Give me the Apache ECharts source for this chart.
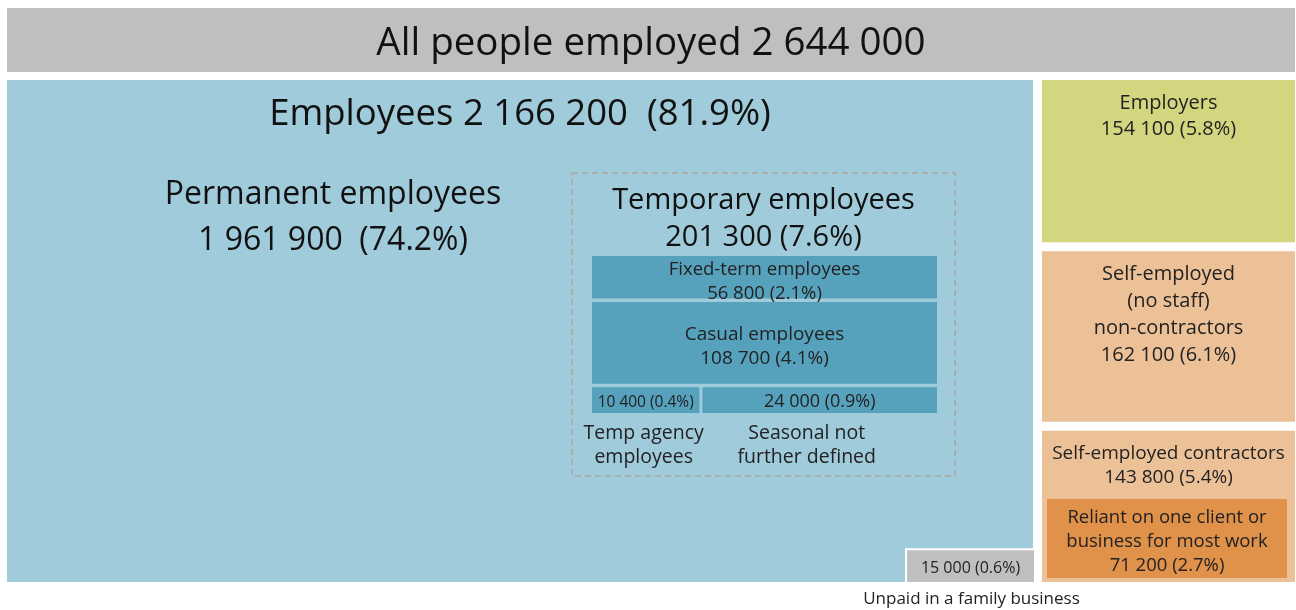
<!DOCTYPE html>
<html>
<head>
<meta charset="utf-8">
<script src="https://cdn.jsdelivr.net/npm/echarts@6/dist/echarts.min.js"></script>
<style>
  html, body { margin: 0; padding: 0; background: #ffffff; }
  #chart { width: 1296px; height: 610px; }
</style>
</head>
<body>
<div id="chart"></div>
<script>
// ---------------- DATA ----------------
const categories = [
  'All people employed',
  'Employees',
  'Permanent employees',
  'Temporary employees',
  'Fixed-term employees',
  'Casual employees',
  'Temp agency\nemployees',
  'Seasonal not\nfurther defined',
  'Employers',
  'Self-employed\n(no staff)\nnon-contractors',
  'Self-employed contractors',
  'Reliant on one client or\nbusiness for most work',
  'Unpaid in a family business'
];
const values = [2644000, 2166200, 1961900, 201300, 56800, 108700, 10400, 24000, 154100, 162100, 143800, 71200, 15000];
const shares = [null, 81.9, 74.2, 7.6, 2.1, 4.1, 0.4, 0.9, 5.8, 6.1, 5.4, 2.7, 0.6];

// ---------------- HELPERS ----------------
function fmt(v) { return String(v).replace(/\B(?=(\d{3})+(?!\d))/g, ' '); }
const FONT = '"Open Sans", Lato, sans-serif';

// Layout (in hidden-axis units) derived from the values
function buildLayout() {
  const R = [];
  const X0 = 7, X1 = 1295, Y0 = 8, HEAD = 64, GAP = 8, BOTTOM = 582, COLW = 253, COLGAP = 9;
  R[0] = { x0: X0, y0: Y0, x1: X1, y1: Y0 + HEAD };
  const top = Y0 + HEAD + GAP;
  R[1] = { x0: X0, y0: top, x1: X1 - COLW - COLGAP, y1: BOTTOM };
  // right column, stacked proportionally to value
  const rightIdx = [8, 9, 10];
  const rightSum = rightIdx.reduce((s, i) => s + values[i], 0);
  const avail = (BOTTOM - top) - COLGAP * (rightIdx.length - 1);
  let y = top;
  rightIdx.forEach((i) => {
    const h = avail * values[i] / rightSum;
    R[i] = { x0: X1 - COLW, y0: y, x1: X1, y1: y + h };
    y += h + COLGAP;
  });
  // reliant: nested in contractors, area-proportional
  const c = R[10], insL = 5, insR = 8, insB = 4;
  const cw = c.x1 - c.x0, ch = c.y1 - c.y0;
  const rw = cw - insL - insR;
  const rh = (values[11] / values[10]) * cw * ch / rw;
  R[11] = { x0: c.x0 + insL, y0: c.y1 - insB - rh, x1: c.x1 - insR, y1: c.y1 - insB };
  // unpaid: bottom-right notch of employees, same area density as right column
  const density = (COLW * avail) / rightSum;
  const uw = 126;
  const uh = values[12] * density / uw;
  R[12] = { x0: R[1].x1 - uw, y0: BOTTOM - uh, x1: R[1].x1 + 1, y1: BOTTOM };
  // temporary (dashed frame) and its parts
  R[3] = { x0: 572, y0: 173, x1: 955, y1: 476 };
  const ix0 = 592, ix1 = 937, itop = 256, ig = 3.5;
  const rowVals = [values[4], values[5], values[6] + values[7]];
  const innerH = 157 - 2 * ig;
  const rs = rowVals.reduce((a, b) => a + b, 0);
  const hs = rowVals.map(v => innerH * v / rs);
  R[4] = { x0: ix0, y0: itop, x1: ix1, y1: itop + hs[0] };
  R[5] = { x0: ix0, y0: R[4].y1 + ig, x1: ix1, y1: R[4].y1 + ig + hs[1] };
  const ry0 = R[5].y1 + ig, ry1 = ry0 + hs[2];
  const aw = (ix1 - ix0 - 3) * values[6] / (values[6] + values[7]) + 4;
  R[6] = { x0: ix0, y0: ry0, x1: ix0 + aw, y1: ry1 };
  R[7] = { x0: ix0 + aw + 3, y0: ry0, x1: ix1, y1: ry1 };
  R[2] = null;
  return R;
}
const rects = buildLayout();

const fills = {
  0: '#bfbfbf', 1: '#a0cbdb', 4: '#56a2bd', 5: '#56a2bd', 6: '#56a2bd', 7: '#56a2bd',
  8: '#d3d67f', 9: '#edc197', 10: '#edc197', 11: '#e0914a', 12: '#bfbfbf'
};

function labelsFor(i, r) {
  const cx = r ? (r.x0 + r.x1) / 2 : 0;
  const cy = r ? (r.y0 + r.y1) / 2 : 0;
  const v = fmt(values[i]);
  const p = shares[i];
  switch (i) {
    case 0: return [{ x: cx, y: cy + 4, t: categories[i] + ' ' + v, fs: 38.5, lh: 40, c: '#111' }];
    case 1: return [{ x: cx, y: r.y0 + 35, t: categories[i] + ' ' + v + '  (' + p + '%)', fs: 36.5, lh: 40, c: '#111' }];
    case 2: return [{ x: 333, y: 218, t: categories[i] + '\n' + v + '  (' + p + '%)', fs: 32, lh: 46, c: '#111' }];
    case 3: return [{ x: cx, y: r.y0 + 46.5, t: categories[i] + '\n' + v + ' (' + p + '%)', fs: 29, lh: 37, c: '#111' }];
    case 4: return [{ x: cx, y: cy + 4, t: categories[i] + '\n' + v + ' (' + p + '%)', fs: 18.5, lh: 24, c: '#222' }];
    case 5: return [{ x: cx, y: cy + 3.5, t: categories[i] + '\n' + v + ' (' + p + '%)', fs: 19, lh: 24, c: '#222' }];
    case 6: return [
      { x: cx, y: cy + 2, t: v + ' (' + p + '%)', fs: 15.5, lh: 18, c: '#222' },
      { x: cx - 2, y: r.y1 + 32, t: categories[i], fs: 19.5, lh: 24, c: '#222' }];
    case 7: return [
      { x: cx, y: cy + 2, t: v + ' (' + p + '%)', fs: 18, lh: 18, c: '#222' },
      { x: cx - 13, y: r.y1 + 32, t: categories[i], fs: 19.5, lh: 24, c: '#222' }];
    case 8: return [{ x: cx, y: r.y0 + 36, t: categories[i] + '\n' + v + ' (' + p + '%)', fs: 20, lh: 26, c: '#222' }];
    case 9: return [{ x: cx, y: r.y0 + 63.5, t: categories[i] + '\n' + v + ' (' + p + '%)', fs: 20, lh: 27, c: '#222' }];
    case 10: return [{ x: cx, y: r.y0 + 34.5, t: categories[i] + '\n' + v + ' (' + p + '%)', fs: 19, lh: 24, c: '#222' }];
    case 11: return [{ x: cx, y: cy + 3, t: categories[i] + '\n' + v + ' (' + p + '%)', fs: 18.5, lh: 24, c: '#222' }];
    case 12: return [
      { x: cx, y: cy + 2, t: v + ' (' + p + '%)', fs: 16, lh: 18, c: '#222' },
      { x: cx + 1, y: r.y1 + 17, t: categories[i], fs: 17, lh: 20, c: '#222' }];
  }
  return [];
}

const drawOrder = [0, 1, 12, 2, 3, 4, 5, 6, 7, 8, 9, 10, 11];

const chart = echarts.init(document.getElementById('chart'), null, { renderer: 'canvas' });
chart.setOption({
  animation: false,
  backgroundColor: '#ffffff',
  grid: { left: 0, right: 0, top: 0, bottom: 0 },
  xAxis: { type: 'value', min: 0, max: 1296, show: false },
  yAxis: { type: 'value', min: 0, max: 610, inverse: true, show: false },
  series: [{
    type: 'custom',
    clip: false,
    data: drawOrder.map(i => [i]),
    renderItem: function (params, api) {
      const i = api.value(0);
      const r = rects[i];
      const children = [];
      if (r) {
        const p0 = api.coord([r.x0, r.y0]);
        const p1 = api.coord([r.x1, r.y1]);
        const pr = { x0: p0[0], y0: p0[1], x1: p1[0], y1: p1[1] };
        if (i === 12) {
          children.push({ type: 'rect', shape: { x: pr.x0 - 2, y: pr.y0 - 2, width: pr.x1 - pr.x0 + 2, height: pr.y1 - pr.y0 + 2 }, style: { fill: '#ffffff' } });
        }
        if (i === 3) {
          children.push({ type: 'rect', shape: { x: pr.x0, y: pr.y0, width: pr.x1 - pr.x0, height: pr.y1 - pr.y0 },
            style: { fill: null, stroke: '#aca69f', lineWidth: 1.5, lineDash: [6, 4] } });
        } else {
          children.push({ type: 'rect', shape: { x: pr.x0, y: pr.y0, width: pr.x1 - pr.x0, height: pr.y1 - pr.y0 }, style: { fill: fills[i] } });
        }
      }
      labelsFor(i, r).forEach(function (l) {
        const p = api.coord([l.x, l.y]);
        children.push({ type: 'text', x: p[0], y: p[1], style: {
          text: l.t, fontSize: l.fs, fontFamily: FONT, fill: l.c, align: 'center', verticalAlign: 'middle', lineHeight: l.lh
        } });
      });
      return { type: 'group', children: children };
    }
  }]
});
</script>
</body>
</html>
